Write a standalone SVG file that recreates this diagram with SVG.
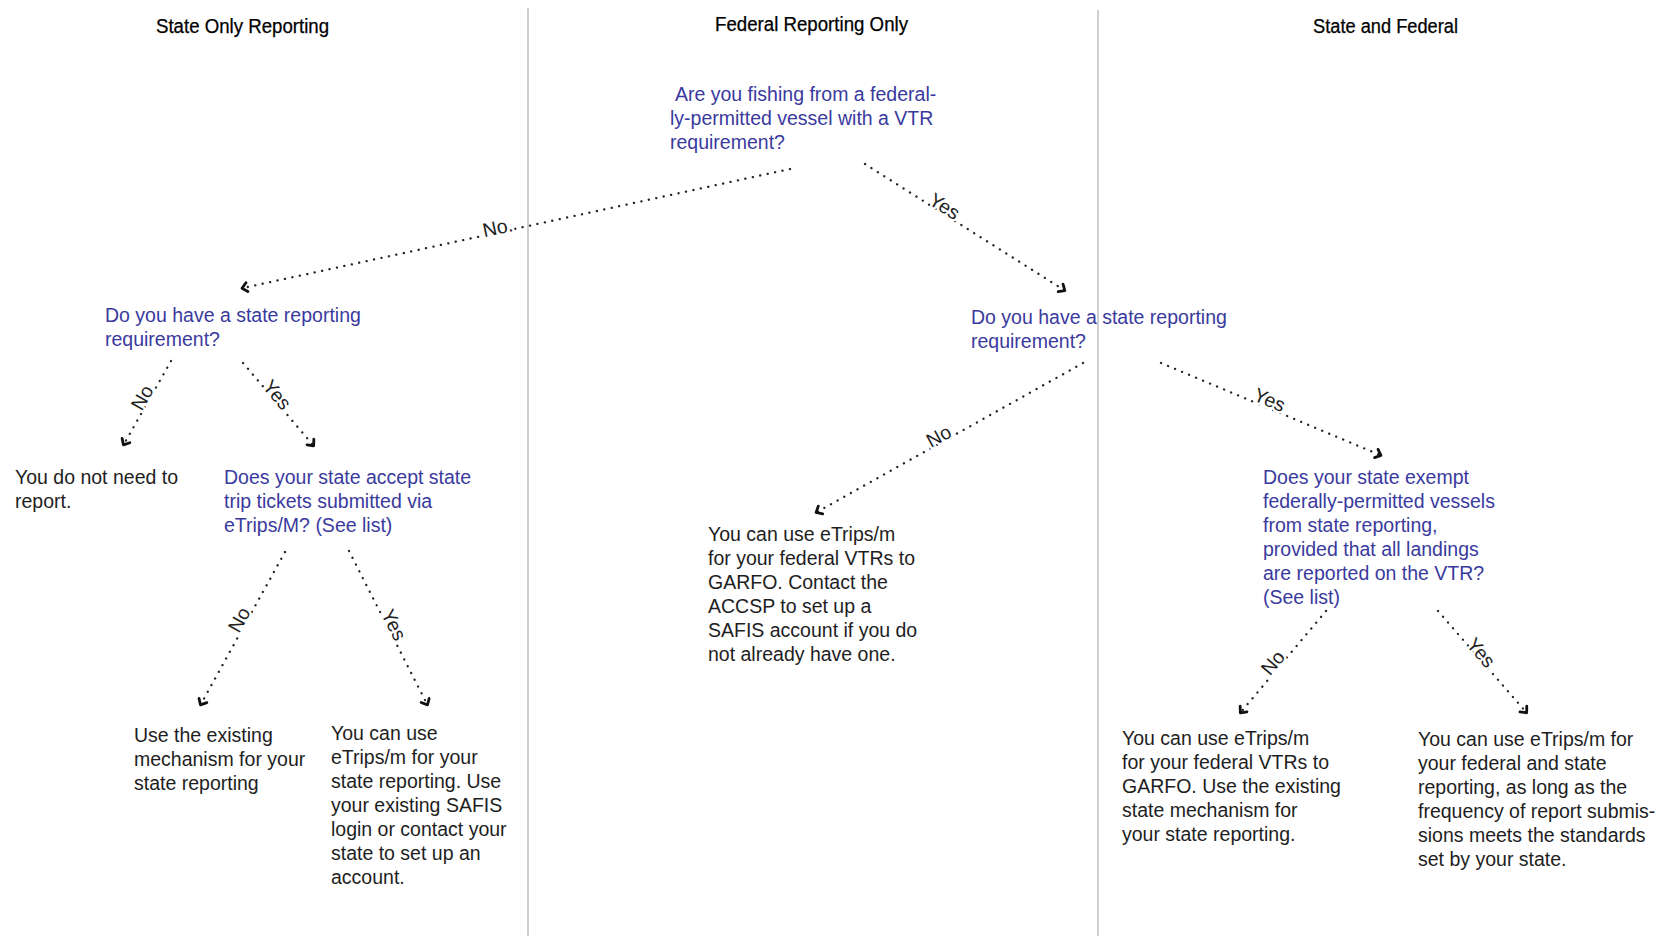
<svg xmlns="http://www.w3.org/2000/svg" width="1673" height="936" viewBox="0 0 1673 936">
<style>
text{font-family:"Liberation Sans",Arial,sans-serif;font-size:19.5px}
.h{fill:#000;font-size:19.5px;stroke:#000;stroke-width:0.25px}
.q{fill:#3a3a9e}
.a{fill:#1e1e1e}
.lbl{fill:#222;font-size:19.5px;paint-order:stroke;stroke:#fff;stroke-width:5px;stroke-linejoin:round}
.div{stroke:#cfcfcf;stroke-width:2}
.c{stroke:#222;stroke-width:2.3;stroke-linecap:round;stroke-dasharray:0.1 7.5;fill:none;marker-end:url(#ah)}
</style>
<defs>
<marker id="ah" viewBox="-6 -6 12 12" markerWidth="12" markerHeight="12" refX="0" refY="0" orient="auto" markerUnits="userSpaceOnUse">
<path d="M-4,-4.5 L1,0 L-4,4.5" fill="none" stroke="#111" stroke-width="2.8" stroke-linecap="round" stroke-linejoin="round"/>
</marker>
</defs>
<rect width="1673" height="936" fill="#fff"/>
<g id="dividers">
<line class="div" x1="528" y1="8" x2="528" y2="936"/>
<line class="div" x1="1098" y1="10" x2="1098" y2="936"/>
</g>
<g id="headers">
<text class="h" x="156" y="33" textLength="173" lengthAdjust="spacingAndGlyphs">State Only Reporting</text>
<text class="h" x="715" y="31" textLength="193" lengthAdjust="spacingAndGlyphs">Federal Reporting Only</text>
<text class="h" x="1313" y="33" textLength="145" lengthAdjust="spacingAndGlyphs">State and Federal</text>
</g>
<g id="connectors">
<line class="c" x1="790" y1="169" x2="243" y2="288"/>
<line class="c" x1="865" y1="164" x2="1064" y2="290"/>
<line class="c" x1="171" y1="361" x2="124" y2="444"/>
<line class="c" x1="243" y1="363" x2="313" y2="445"/>
<line class="c" x1="285" y1="552" x2="201" y2="704"/>
<line class="c" x1="349" y1="551" x2="427" y2="704"/>
<line class="c" x1="1083" y1="363" x2="817" y2="512"/>
<line class="c" x1="1161" y1="363" x2="1380" y2="455"/>
<line class="c" x1="1326" y1="611" x2="1241" y2="712"/>
<line class="c" x1="1438" y1="611" x2="1526" y2="712"/>
<text class="lbl" text-anchor="middle" transform="translate(499,234) rotate(-12)">No.</text>
<text class="lbl" text-anchor="middle" transform="translate(941,212) rotate(32)">Yes</text>
<text class="lbl" text-anchor="middle" transform="translate(148,401) rotate(-60)">No</text>
<text class="lbl" text-anchor="middle" transform="translate(272,399) rotate(50)">Yes</text>
<text class="lbl" text-anchor="middle" transform="translate(245,623) rotate(-61)">No</text>
<text class="lbl" text-anchor="middle" transform="translate(388,628) rotate(63)">Yes</text>
<text class="lbl" text-anchor="middle" transform="translate(942,442) rotate(-29)">No</text>
<text class="lbl" text-anchor="middle" transform="translate(1267,406) rotate(23)">Yes</text>
<text class="lbl" text-anchor="middle" transform="translate(1278,667) rotate(-50)">No</text>
<text class="lbl" text-anchor="middle" transform="translate(1476,657) rotate(49)">Yes</text>
</g>
<g id="q1">
<text class="q" x="670" y="101"><tspan x="675">Are you fishing from a federal-</tspan><tspan x="670" dy="24">ly-permitted vessel with a VTR</tspan><tspan x="670" dy="24">requirement?</tspan></text>
</g>
<g id="q2-left">
<text class="q" x="105" y="322"><tspan x="105">Do you have a state reporting</tspan><tspan x="105" dy="24">requirement?</tspan></text>
</g>
<g id="q2-right">
<text class="q" x="971" y="324"><tspan x="971">Do you have a state reporting</tspan><tspan x="971" dy="24">requirement?</tspan></text>
</g>
<g id="no-report">
<text class="a" x="15" y="484"><tspan x="15">You do not need to</tspan><tspan x="15" dy="24">report.</tspan></text>
</g>
<g id="q3-accept">
<text class="q" x="224" y="484"><tspan x="224">Does your state accept state</tspan><tspan x="224" dy="24">trip tickets submitted via</tspan><tspan x="224" dy="24">eTrips/M? (See list)</tspan></text>
</g>
<g id="use-existing">
<text class="a" x="134" y="742"><tspan x="134">Use the existing</tspan><tspan x="134" dy="24">mechanism for your</tspan><tspan x="134" dy="24">state reporting</tspan></text>
</g>
<g id="use-etrips-state">
<text class="a" x="331" y="740"><tspan x="331">You can use</tspan><tspan x="331" dy="24">eTrips/m for your</tspan><tspan x="331" dy="24">state reporting. Use</tspan><tspan x="331" dy="24">your existing SAFIS</tspan><tspan x="331" dy="24">login or contact your</tspan><tspan x="331" dy="24">state to set up an</tspan><tspan x="331" dy="24">account.</tspan></text>
</g>
<g id="federal-only">
<text class="a" x="708" y="541"><tspan x="708">You can use eTrips/m</tspan><tspan x="708" dy="24">for your federal VTRs to</tspan><tspan x="708" dy="24">GARFO. Contact the</tspan><tspan x="708" dy="24">ACCSP to set up a</tspan><tspan x="708" dy="24">SAFIS account if you do</tspan><tspan x="708" dy="24">not already have one.</tspan></text>
</g>
<g id="q4-exempt">
<text class="q" x="1263" y="484"><tspan x="1263">Does your state exempt</tspan><tspan x="1263" dy="24">federally-permitted vessels</tspan><tspan x="1263" dy="24">from state reporting,</tspan><tspan x="1263" dy="24">provided that all landings</tspan><tspan x="1263" dy="24">are reported on the VTR?</tspan><tspan x="1263" dy="24">(See list)</tspan></text>
</g>
<g id="both-no">
<text class="a" x="1122" y="745"><tspan x="1122">You can use eTrips/m</tspan><tspan x="1122" dy="24">for your federal VTRs to</tspan><tspan x="1122" dy="24">GARFO. Use the existing</tspan><tspan x="1122" dy="24">state mechanism for</tspan><tspan x="1122" dy="24">your state reporting.</tspan></text>
</g>
<g id="both-yes">
<text class="a" x="1418" y="746"><tspan x="1418">You can use eTrips/m for</tspan><tspan x="1418" dy="24">your federal and state</tspan><tspan x="1418" dy="24">reporting, as long as the</tspan><tspan x="1418" dy="24">frequency of report submis-</tspan><tspan x="1418" dy="24">sions meets the standards</tspan><tspan x="1418" dy="24">set by your state.</tspan></text>
</g>
</svg>
